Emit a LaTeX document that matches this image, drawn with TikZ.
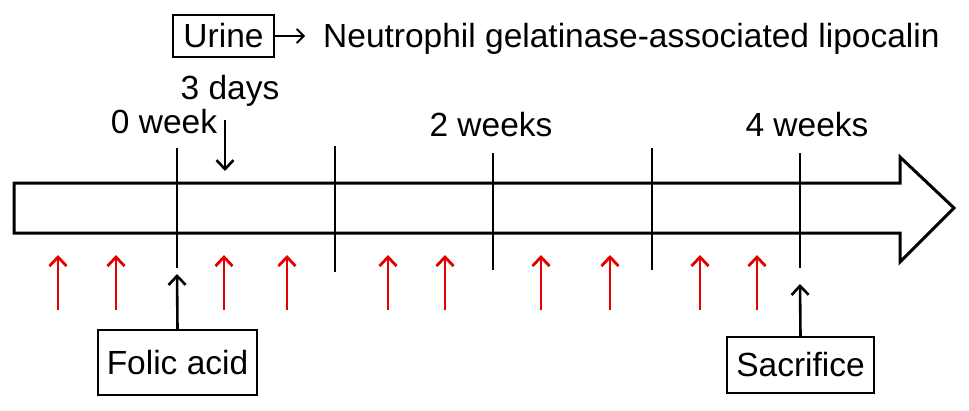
\documentclass[tikz,border=0pt]{standalone}
\usepackage{fontspec}
\setmainfont{Liberation Sans}
\usetikzlibrary{arrows.meta}
\begin{document}
\begin{tikzpicture}[x=1pt,y=-1pt,
  lbl/.style={inner sep=0pt,anchor=base,font=\fontsize{33.5}{40}\selectfont},
  boxnode/.style={draw,line width=2.4pt,inner sep=0pt,font=\fontsize{33.5}{40}\selectfont},
  tick/.style={line width=2.4pt},
  blackarr/.style={line width=2.6pt,-{Straight Barb[length=9pt,width=17pt,line width=2.6pt]}},
  redarr/.style={line width=2.8pt,draw=red!90!black,-{Straight Barb[length=9pt,width=17pt,line width=2.8pt]}}
]
\useasboundingbox (0,0) rectangle (969,410);
% main arrow
\draw[line width=3pt,line join=miter] (14,183) -- (900,183) -- (900,157) -- (954,208) -- (900,262) -- (900,233) -- (14,233) -- cycle;
% ticks
\draw[tick] (177,148) -- (177,268);
\draw[tick] (335,146) -- (335,272);
\draw[tick] (493,153) -- (493,270);
\draw[tick] (652,148) -- (652,270);
\draw[tick] (800,153) -- (800,268);
% top labels
\node[boxnode,minimum width=101pt,minimum height=42pt] (urine) at (223.5,36) {Urine};
\node[lbl,anchor=base west] (ngal) at (323,47) {Neutrophil gelatinase-associated lipocalin};
\coordinate (uend) at (305,36);
\draw[line width=1.8pt,-{Straight Barb[length=7pt,width=14pt,line width=1.8pt]}] (urine.east) -- (uend);
\node[lbl] (threedays) at (230,99) {3 days};
\node[lbl] (week0) at (164,133) {0 week};
\node[lbl] (week2) at (491,136) {2 weeks};
\node[lbl] (week4) at (807,136) {4 weeks};
\coordinate (d3a) at (225,120);
\coordinate (d3b) at (225,171);
\draw[blackarr] (d3a) -- (d3b);
% red arrows
\foreach \xx [count=\i] in {58,116,224,287,388,445,541,610,700,757}{
  \coordinate (rb\i) at (\xx,310);
  \coordinate (rt\i) at (\xx,255);
  \draw[redarr] (rb\i) -- (rt\i);
}
% bottom boxes
\node[boxnode,minimum width=159pt,minimum height=65pt] (folic) at (177.5,362.5) {Folic acid};
\node[boxnode,minimum width=147pt,minimum height=56pt] (sacr) at (800.5,365) {Sacrifice};
\coordinate (ftip) at (177,274);
\coordinate (stip) at (800,284);
\draw[blackarr] (folic.north) -- (ftip);
\draw[blackarr] (sacr.north) -- (stip);
\end{tikzpicture}
\end{document}
